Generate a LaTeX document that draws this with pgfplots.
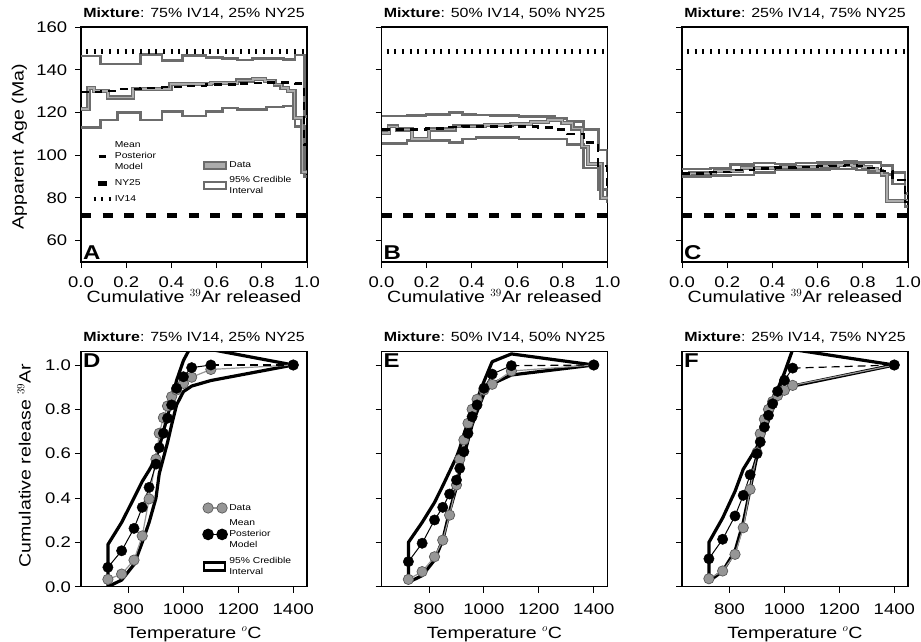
\documentclass[border=0pt]{standalone}
\usepackage[no-math]{fontspec}
\setmainfont{Liberation Sans}[FakeStretch=1.2]
\usepackage{pgfplots}
\usepackage{pgfplotstable}
\pgfplotsset{compat=1.18}

\definecolor{cigray}{RGB}{108,108,108}
\definecolor{datafill}{RGB}{172,172,172}
\definecolor{ptgray}{RGB}{150,150,150}
\definecolor{ptedge}{RGB}{90,90,90}

% ---------- age spectra: left edge of each step (cumulative 39Ar), age in Ma
\pgfplotstableread{
f v
0 121.5
0.033 131.5
0.057 130
0.12 127
0.229 131
0.396 133.3
0.575 133.8
0.692 135
0.762 135.6
0.815 134.8
0.857 133
0.887 131.5
0.917 130
0.945 117.5
0.98 92
1.0 92
}\dataA
\pgfplotstableread{
f m lo hi
0 129.5 113 146.5
0.0875 130 116.5 142.7
0.162 131 120 142.7
0.263 131.5 116.5 147
0.358 132 120.4 144.3
0.448 132.5 118.4 146.6
0.553 133 120.4 145.7
0.627 133 122 145.3
0.692 133.5 121.5 144.6
0.76 133.8 121.3 145.3
0.82 134 122.5 145.3
0.895 134 123 144.9
0.947 133.5 113.5 146.9
0.988 105 90 118
1.0 105 90 118
}\modelA
\pgfplotstableread{
f v
0 110.5
0.033 113.5
0.068 112
0.135 107.5
0.21 112
0.323 113.5
0.459 114
0.575 114.5
0.662 115.5
0.737 116.5
0.80 115
0.845 112.5
0.887 104
0.913 96
0.973 80
1.0 80
}\dataB
\pgfplotstableread{
f m lo hi
0 112 105.6 118.3
0.113 112 106.8 118.5
0.196 112.5 107 119
0.301 113.3 106 120
0.358 113.5 107.5 119
0.418 113.5 108.4 118.8
0.481 113.5 108.4 118.5
0.534 113.5 108.4 118.5
0.609 113.5 107.5 118
0.692 113 107.5 118
0.767 112 107.5 117.3
0.82 110 104.9 115.8
0.895 106 94 112
0.959 95 83.8 102.5
0.997 85 78 95
1.0 85 78 95
}\modelB
\pgfplotstableread{
f v
0 91
0.036 91.5
0.071 91.5
0.146 92.5
0.266 94
0.439 94.5
0.605 95
0.69 95.5
0.755 95
0.80 94.5
0.835 93.5
0.862 92.5
0.886 91
0.908 78.5
1.0 78.5
}\dataC
\pgfplotstableread{
f m lo hi
0 91.5 90 93.5
0.126 92 90.5 94
0.214 93 90.8 95.5
0.319 93.8 92 96.3
0.412 94.2 93 95.8
0.505 94.5 93 96.3
0.60 94.8 93.3 96.5
0.653 95 93.5 96.5
0.72 95.3 93.5 97
0.773 95 93 96.5
0.825 94 92 96.5
0.881 92.5 91 95.3
0.931 88.5 86.5 92
0.986 78 76 82
1.0 78 76 82
}\modelC

% ---------- cumulative release vs temperature: data and mean model
\pgfplotstableread{
T d m
725 0.033 0.0875
775 0.057 0.162
820 0.12 0.263
850 0.229 0.358
875 0.396 0.448
900 0.575 0.553
912 0.692 0.627
927 0.762 0.692
942 0.815 0.76
957 0.857 0.82
975 0.887 0.895
1000 0.917 0.947
1030 0.945 0.988
1100 0.98 1.0
1400 1.0 1.0
}\relD
\pgfplotstableread{
T d m
725 0.033 0.113
775 0.068 0.196
820 0.135 0.301
850 0.21 0.358
875 0.323 0.418
900 0.459 0.481
912 0.575 0.534
927 0.662 0.609
942 0.737 0.692
957 0.80 0.767
975 0.845 0.82
1000 0.887 0.895
1030 0.913 0.959
1100 0.973 0.997
1400 1.0 1.0
}\relE
\pgfplotstableread{
T d m
725 0.036 0.126
775 0.071 0.214
820 0.146 0.319
850 0.266 0.412
875 0.439 0.505
900 0.605 0.60
912 0.69 0.653
927 0.755 0.72
942 0.80 0.773
957 0.835 0.825
975 0.862 0.881
1000 0.886 0.931
1030 0.908 0.986
1400 1.0 1.0
}\relF

% ---------- 95% credible envelopes (closed outlines: upper bound, then lower bound back)
\pgfplotstableread{
T v
725 0.0
725 0.19
775 0.29
820 0.40
850 0.475
875 0.525
900 0.58
912 0.63
927 0.70
942 0.77
957 0.84
975 0.93
1000 1.02
1030 1.09
1100 1.07
1400 1.0
1100 0.93
1030 0.905
1000 0.88
975 0.82
957 0.73
942 0.65
927 0.58
912 0.51
900 0.40
875 0.29
850 0.20
820 0.10
775 0.03
725 0.0
}\envD
\pgfplotstableread{
T v
725 0.02
725 0.20
775 0.29
820 0.38
850 0.455
875 0.52
900 0.585
912 0.625
927 0.685
942 0.745
957 0.795
975 0.845
1000 0.925
1030 1.015
1100 1.05
1400 1.0
1100 0.955
1030 0.915
1000 0.87
975 0.79
957 0.73
942 0.66
927 0.59
912 0.52
900 0.45
875 0.34
850 0.21
820 0.12
775 0.05
725 0.02
}\envE
\pgfplotstableread{
T v
725 0.025
725 0.20
775 0.31
820 0.43
850 0.53
875 0.58
900 0.63
912 0.665
927 0.735
942 0.785
957 0.835
975 0.89
1000 0.965
1030 1.07
1400 1.0
1030 0.905
1000 0.88
975 0.85
957 0.80
942 0.75
927 0.70
912 0.64
900 0.59
875 0.44
850 0.29
820 0.16
775 0.07
725 0.025
}\envF

\tikzset{panellabel/.style={font=\bfseries\fontsize{20}{20}\selectfont, inner sep=2pt}}

\pgfplotsset{
  panel/.style={
    scale only axis, width=226pt, height=235pt, anchor=south west,
    axis line style={line width=1.4pt},
    tick align=outside, xtick pos=bottom, ytick pos=left,
    major tick length=6pt,
    every tick/.style={black, line width=0.9pt},
    tick label style={font=\fontsize{15.4}{17}\selectfont},
    label style={font=\fontsize{16.3}{19}\selectfont},
    title style={font=\fontsize{13.3}{15}\selectfont, at={(0.5,1)}, anchor=south, inner sep=2pt},
    legend style={draw=none, fill=none, inner sep=0pt,
      cells={anchor=west, align=left}},
  },
  agepanel/.style={panel, xmin=0, xmax=1, ymin=50, ymax=160,
    xtick={0,0.2,0.4,0.6,0.8,1}, xticklabels={0.0,0.2,0.4,0.6,0.8,1.0},
    ytick={60,80,100,120,140,160}, yticklabels={60,80,100,120,140,160},
    xticklabel style={anchor=center, inner sep=0pt, yshift=-14.5pt},
    yticklabel style={anchor=east, inner sep=0pt, xshift=-7.7pt},
    xlabel={Cumulative $^{39}$Ar released},
    xlabel style={at={(axis description cs:0.5,-0.145)}, anchor=center}},
  relpanel/.style={panel, xmin=627, xmax=1450, ymin=0, ymax=1.06,
    xtick={800,1000,1200,1400}, xticklabels={800,1000,1200,1400},
    ytick={0,0.2,0.4,0.6,0.8,1}, yticklabels={0.0,0.2,0.4,0.6,0.8,1.0},
    xticklabel style={anchor=center, inner sep=0pt, yshift=-16.3pt},
    yticklabel style={anchor=east, inner sep=0pt, xshift=-4pt},
    xlabel={Temperature $^o$C},
    xlabel style={at={(axis description cs:0.5,-0.202)}, anchor=center}},
  ci/.style={cigray, line width=2.6pt, const plot, forget plot},
  dataouter/.style={cigray, line width=4.2pt, const plot, forget plot},
  datainner/.style={datafill, line width=1.6pt, const plot, forget plot},
  model/.style={black, line width=2.4pt, dash pattern=on 8pt off 6pt, const plot, forget plot},
  ny25/.style={black, line width=5pt, dash pattern=on 10pt off 11.5pt, forget plot},
  iv14/.style={black, line width=4.5pt, dash pattern=on 2pt off 5.7pt, dash phase=-5pt, forget plot},
  env/.style={black, line width=3.2pt, line cap=round, line join=round, forget plot},
  dline/.style={ptgray, line width=1.2pt, forget plot},
  dmarks/.style={only marks, mark=*, mark size=5.2pt, mark options={fill=ptgray, draw=ptedge, line width=0.7pt}, forget plot},
  mline/.style={black, line width=1pt, forget plot},
  mdash/.style={black, line width=1.2pt, dash pattern=on 8pt off 5pt, forget plot},
  mmarks/.style={only marks, mark=*, mark size=5.2pt, mark options={fill=black, draw=black}, forget plot},
  % key symbols
  key mpm/.style={legend image code/.code={\draw[black, line width=2.4pt] (5pt,0pt) -- (12pt,0pt);}},
  key ny/.style={legend image code/.code={\draw[black, line width=5pt] (4pt,0pt) -- (13pt,0pt);}},
  key iv/.style={legend image code/.code={\draw[black, line width=4.5pt, dash pattern=on 2pt off 5.5pt] (0pt,0pt) -- (17pt,0pt);}},
  key data/.style={legend image code/.code={\draw[draw=cigray, fill=datafill, line width=2.2pt] (0pt,-3.5pt) rectangle (22pt,3.5pt);}},
  key ci/.style={legend image code/.code={\draw[draw=cigray, fill=white, line width=2.2pt] (0pt,-3.5pt) rectangle (22pt,3.5pt);}},
  key gpts/.style={legend image code/.code={\draw[ptgray, line width=1.2pt, mark=*, mark size=5.2pt, mark options={fill=ptgray, draw=ptedge, line width=0.7pt}] plot coordinates {(0pt,0pt) (14pt,0pt)};}},
  key bpts/.style={legend image code/.code={\draw[black, line width=1.2pt, mark=*, mark size=5.2pt, mark options={fill=black}] plot coordinates {(0pt,0pt) (14pt,0pt)};}},
  key env/.style={legend image code/.code={\draw[black, fill=white, line width=2.6pt] (-4pt,-4pt) rectangle (17pt,4pt);}},
}

\begin{document}
\begin{tikzpicture}
\useasboundingbox (0pt,0pt) rectangle (921pt,641pt);

% ================= A =================
\begin{axis}[agepanel, at={(81pt,379pt)},
  title={\textbf{Mixture}: 75\% IV14, 25\% NY25},
  ylabel={Apparent Age (Ma)},
  ylabel style={at={(axis description cs:-0.272,0.49)}, anchor=center},
  legend style={at={(axis description cs:0.045,0.52)}, anchor=north west,
    font=\fontsize{8.6}{10.7}\selectfont, row sep=4.5pt}]
\addplot[ci] table[x=f,y=hi]{\modelA};
\addplot[ci] table[x=f,y=lo]{\modelA};
\addplot[dataouter] table[x=f,y=v]{\dataA};
\addplot[datainner] table[x=f,y=v]{\dataA};
\addplot[model] table[x=f,y=m]{\modelA};
\addplot[iv14] coordinates {(0,148.6) (1,148.6)};
\addplot[ny25] coordinates {(0,72) (1,72)};
\addlegendimage{key mpm}
\addlegendentry{Mean\\Posterior\\Model}
\addlegendimage{key ny}
\addlegendentry{NY25}
\addlegendimage{key iv}
\addlegendentry{IV14}
\node[panellabel, anchor=south west] at (rel axis cs:0,0) {A};
\end{axis}
% second key of panel A
\begin{axis}[at={(81pt,379pt)}, anchor=south west, scale only axis, width=226pt, height=235pt,
  hide axis, xmin=0, xmax=1, ymin=0, ymax=1,
  legend style={at={(axis description cs:0.54,0.436)}, anchor=north west, draw=none, fill=none,
    inner sep=0pt, font=\fontsize{8.6}{10.7}\selectfont, cells={anchor=west, align=left}, row sep=3pt}]
\addlegendimage{key data}
\addlegendentry{Data}
\addlegendimage{key ci}
\addlegendentry{95\% Credible\\Interval}
\end{axis}

% ================= B =================
\begin{axis}[agepanel, at={(381.5pt,379pt)}, yticklabels={},
  title={\textbf{Mixture}: 50\% IV14, 50\% NY25}]
\addplot[ci] table[x=f,y=hi]{\modelB};
\addplot[ci] table[x=f,y=lo]{\modelB};
\addplot[dataouter] table[x=f,y=v]{\dataB};
\addplot[datainner] table[x=f,y=v]{\dataB};
\addplot[model] table[x=f,y=m]{\modelB};
\addplot[iv14] coordinates {(0,148.6) (1,148.6)};
\addplot[ny25] coordinates {(0,72) (1,72)};
\node[panellabel, anchor=south west] at (rel axis cs:0,0) {B};
\end{axis}

% ================= C =================
\begin{axis}[agepanel, at={(682pt,379pt)}, yticklabels={},
  title={\textbf{Mixture}: 25\% IV14, 75\% NY25}]
\addplot[ci] table[x=f,y=hi]{\modelC};
\addplot[ci] table[x=f,y=lo]{\modelC};
\addplot[dataouter] table[x=f,y=v]{\dataC};
\addplot[datainner] table[x=f,y=v]{\dataC};
\addplot[model] table[x=f,y=m]{\modelC};
\addplot[iv14] coordinates {(0,148.6) (1,148.6)};
\addplot[ny25] coordinates {(0,72) (1,72)};
\node[panellabel, anchor=south west] at (rel axis cs:0,0) {C};
\end{axis}

% ================= D =================
\begin{axis}[relpanel, at={(81pt,54.3pt)},
  title={\textbf{Mixture}: 75\% IV14, 25\% NY25},
  ylabel={Cumulative release $^{39}$Ar},
  ylabel style={at={(axis description cs:-0.252,0.516)}, anchor=center},
  legend style={at={(axis description cs:0.538,0.36)}, anchor=north west,
    font=\fontsize{8.6}{11}\selectfont, row sep=4pt}]
\addplot[env] table[x=T,y=v]{\envD};
\addplot[dline] table[x=T,y=d]{\relD};
\addplot[dmarks] table[x=T,y=d]{\relD};
\addplot[mline] table[x=T,y=m,skip coords between index={14}{15}]{\relD};
\addplot[mdash] table[x=T,y=m,skip coords between index={0}{13}]{\relD};
\addplot[mmarks] table[x=T,y=m]{\relD};
\addlegendimage{key gpts}
\addlegendentry{Data}
\addlegendimage{key bpts}
\addlegendentry{Mean\\Posterior\\Model}
\addlegendimage{key env}
\addlegendentry{95\% Credible\\Interval}
\node[panellabel, anchor=north west] at (rel axis cs:0,1) {D};
\end{axis}

% ================= E =================
\begin{axis}[relpanel, at={(381.5pt,54.3pt)}, yticklabels={},
  title={\textbf{Mixture}: 50\% IV14, 50\% NY25}]
\addplot[env] table[x=T,y=v]{\envE};
\addplot[dline] table[x=T,y=d]{\relE};
\addplot[dmarks] table[x=T,y=d]{\relE};
\addplot[mline] table[x=T,y=m,skip coords between index={14}{15}]{\relE};
\addplot[mdash] table[x=T,y=m,skip coords between index={0}{13}]{\relE};
\addplot[mmarks] table[x=T,y=m]{\relE};
\node[panellabel, anchor=north west] at (rel axis cs:0,1) {E};
\end{axis}

% ================= F =================
\begin{axis}[relpanel, at={(682pt,54.3pt)}, yticklabels={},
  title={\textbf{Mixture}: 25\% IV14, 75\% NY25}]
\addplot[env] table[x=T,y=v]{\envF};
\addplot[dline] table[x=T,y=d]{\relF};
\addplot[dmarks] table[x=T,y=d]{\relF};
\addplot[mline] table[x=T,y=m,skip coords between index={13}{14}]{\relF};
\addplot[mdash] table[x=T,y=m,skip coords between index={0}{12}]{\relF};
\addplot[mmarks] table[x=T,y=m]{\relF};
\node[panellabel, anchor=north west] at (rel axis cs:0,1) {F};
\end{axis}
\end{tikzpicture}
\end{document}
